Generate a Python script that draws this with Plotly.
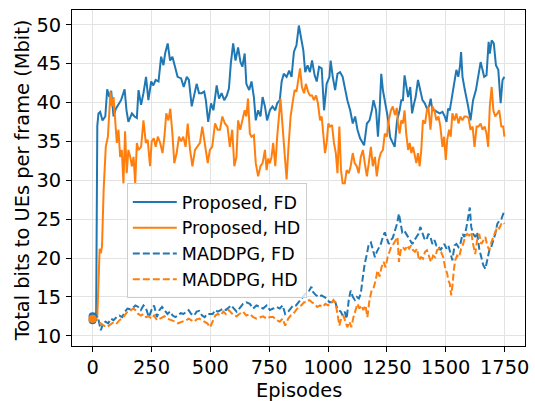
import plotly.graph_objects as go

# ---------------- data ----------------
prop_fd_x = [0, 8, 15, 20, 25, 32, 42, 54, 62, 71, 79, 89, 99, 110, 121, 136, 144, 152, 167, 178, 188, 195, 206, 216, 227, 237, 249, 258, 268, 280, 291, 301, 308, 319, 329, 339, 350, 361, 376, 387, 400, 409, 421, 432, 442, 452, 463, 474, 481, 491, 503, 513, 527, 537, 548, 559, 570, 579, 587, 597, 607, 618, 628, 636, 646, 653, 665, 675, 685, 693, 703, 713, 722, 732, 741, 753, 764, 776, 784, 795, 803, 812, 824, 835, 845, 855, 866, 876, 886, 895, 903, 913, 923, 932, 943, 952, 962, 973, 983, 994, 1006, 1011, 1020, 1030, 1040, 1051, 1062, 1072, 1082, 1094, 1105, 1115, 1125, 1136, 1146, 1153, 1165, 1176, 1186, 1193, 1204, 1212, 1219, 1226, 1233, 1243, 1253, 1264, 1273, 1283, 1293, 1304, 1311, 1318, 1325, 1332, 1340, 1349, 1357, 1364, 1372, 1382, 1392, 1401, 1411, 1420, 1429, 1436, 1443, 1453, 1463, 1474, 1486, 1496, 1503, 1510, 1517, 1528, 1538, 1545, 1553, 1560, 1565, 1571, 1581, 1588, 1595, 1605, 1616, 1628, 1638, 1648, 1656, 1663, 1673, 1682, 1687, 1695, 1704, 1713, 1723, 1733, 1741, 1749]
prop_fd_y = [12.0, 12.3, 12.0, 37.0, 38.6, 38.8, 37.7, 38.2, 41.7, 40.7, 41.5, 38.2, 39.2, 39.7, 40.3, 41.7, 39.0, 37.5, 38.6, 38.2, 38.0, 41.6, 39.7, 41.2, 43.3, 40.3, 42.7, 42.2, 42.9, 42.7, 45.9, 44.8, 46.3, 47.6, 45.4, 45.9, 44.4, 43.3, 43.1, 42.0, 43.3, 42.9, 39.5, 41.2, 42.4, 41.2, 41.2, 41.4, 40.3, 37.5, 39.9, 39.0, 42.2, 40.5, 41.2, 40.3, 40.9, 41.8, 45.0, 47.6, 45.4, 47.1, 45.2, 44.6, 46.3, 42.4, 41.6, 42.7, 40.7, 37.7, 39.0, 38.2, 40.7, 39.5, 37.7, 39.0, 39.5, 39.0, 39.9, 40.3, 42.7, 43.7, 43.3, 44.1, 43.3, 46.5, 47.4, 49.9, 48.0, 46.7, 43.9, 44.8, 43.9, 45.4, 43.5, 42.7, 44.6, 44.4, 39.0, 42.4, 43.3, 45.4, 43.3, 41.6, 43.7, 43.9, 43.3, 41.6, 40.3, 39.0, 37.3, 38.2, 36.5, 35.4, 34.8, 34.5, 37.3, 37.7, 39.0, 40.3, 39.0, 35.6, 39.0, 43.7, 41.6, 39.9, 38.2, 35.5, 35.0, 34.3, 37.7, 39.0, 40.3, 40.3, 43.5, 42.0, 40.7, 42.0, 38.6, 39.7, 40.7, 42.9, 41.6, 40.3, 39.9, 39.2, 39.5, 40.5, 39.0, 39.0, 38.8, 38.6, 38.8, 38.2, 37.5, 39.2, 39.0, 41.2, 42.9, 44.2, 43.3, 44.6, 46.5, 43.3, 41.6, 40.7, 39.5, 37.7, 40.3, 41.6, 43.5, 45.2, 44.2, 43.3, 43.5, 47.8, 46.3, 48.0, 47.6, 44.8, 44.2, 39.9, 42.9, 43.3]

prop_hd_x = [0, 10, 20, 26, 30, 35, 40, 47, 56, 65, 71, 76, 82, 89, 96, 103, 110, 117, 124, 131, 138, 145, 152, 160, 167, 174, 181, 188, 195, 206, 216, 226, 234, 244, 251, 260, 268, 277, 287, 297, 305, 313, 322, 330, 339, 347, 357, 367, 376, 385, 395, 404, 414, 424, 435, 446, 456, 466, 477, 489, 498, 508, 520, 531, 541, 551, 562, 573, 583, 593, 602, 611, 618, 627, 636, 646, 653, 660, 668, 675, 685, 693, 703, 713, 722, 732, 739, 746, 753, 760, 767, 776, 784, 793, 798, 807, 815, 824, 832, 841, 849, 858, 866, 874, 881, 889, 898, 906, 915, 923, 932, 940, 949, 957, 966, 973, 980, 987, 994, 1001, 1008, 1017, 1025, 1033, 1040, 1048, 1055, 1062, 1071, 1079, 1088, 1096, 1105, 1113, 1122, 1130, 1139, 1148, 1156, 1165, 1173, 1182, 1190, 1199, 1207, 1216, 1224, 1233, 1241, 1250, 1258, 1267, 1275, 1284, 1292, 1297, 1304, 1311, 1318, 1325, 1332, 1340, 1347, 1354, 1361, 1368, 1375, 1382, 1389, 1396, 1403, 1412, 1420, 1426, 1435, 1443, 1452, 1460, 1469, 1477, 1486, 1493, 1500, 1506, 1514, 1521, 1528, 1537, 1545, 1554, 1562, 1571, 1579, 1588, 1597, 1605, 1614, 1622, 1631, 1639, 1648, 1656, 1665, 1673, 1680, 1687, 1695, 1702, 1710, 1719, 1727, 1736, 1744, 1749]
prop_hd_y = [12.2, 12.5, 12.4, 18.0, 21.2, 20.6, 21.5, 28.8, 34.3, 35.6, 39.9, 41.4, 39.5, 40.7, 37.7, 34.8, 36.5, 33.0, 33.9, 29.6, 36.3, 30.9, 33.9, 33.0, 31.8, 33.0, 29.6, 34.8, 33.9, 34.3, 37.7, 34.8, 35.2, 31.8, 35.0, 35.4, 34.3, 35.6, 34.8, 33.5, 35.6, 38.6, 37.7, 39.2, 36.0, 32.2, 33.5, 35.6, 35.0, 35.6, 34.3, 37.3, 33.9, 31.8, 33.9, 34.3, 34.8, 36.9, 34.8, 32.2, 33.9, 34.3, 37.3, 36.5, 36.5, 38.2, 37.3, 36.9, 34.3, 36.5, 31.8, 33.0, 37.7, 36.5, 37.7, 39.0, 38.2, 40.5, 36.0, 35.6, 35.8, 32.2, 30.5, 31.8, 32.2, 33.9, 31.3, 32.8, 32.2, 33.0, 34.8, 31.8, 35.6, 39.0, 40.5, 36.9, 33.9, 30.1, 34.3, 38.2, 39.9, 41.6, 41.4, 42.9, 44.4, 42.0, 41.2, 42.4, 41.4, 40.9, 40.9, 40.3, 40.9, 39.9, 37.7, 38.2, 36.0, 33.5, 34.8, 37.3, 36.9, 37.1, 34.8, 33.5, 30.9, 36.9, 31.3, 29.6, 29.6, 31.3, 30.9, 31.8, 33.5, 32.2, 31.8, 30.9, 33.0, 33.9, 32.2, 30.5, 32.2, 34.3, 31.8, 33.0, 30.5, 32.6, 33.5, 33.9, 36.0, 35.6, 37.7, 39.0, 39.5, 38.4, 39.3, 37.3, 36.0, 37.7, 37.3, 39.0, 36.0, 33.9, 34.8, 33.5, 34.3, 33.0, 32.2, 33.5, 31.8, 33.9, 37.7, 37.3, 39.0, 39.5, 36.5, 39.5, 39.0, 37.7, 38.2, 36.9, 34.3, 35.6, 32.6, 35.2, 36.5, 35.6, 38.6, 37.7, 38.6, 37.3, 38.2, 37.7, 38.2, 38.2, 38.0, 36.5, 36.9, 34.3, 36.9, 36.9, 37.3, 36.5, 36.9, 36.0, 34.3, 39.5, 42.0, 39.0, 38.2, 38.6, 39.0, 36.9, 36.9, 35.6]

mad_fd_x = [0, 10, 24, 35, 45, 55, 66, 78, 89, 102, 114, 126, 137, 148, 160, 172, 182, 194, 205, 216, 227, 239, 250, 261, 273, 284, 295, 306, 318, 329, 340, 352, 363, 374, 386, 397, 408, 419, 431, 442, 453, 465, 476, 487, 499, 510, 521, 532, 544, 555, 566, 578, 589, 600, 612, 623, 639, 653, 668, 682, 696, 710, 724, 739, 753, 767, 781, 795, 807, 818, 831, 841, 852, 864, 875, 886, 898, 909, 920, 929, 937, 949, 960, 972, 983, 994, 1006, 1017, 1028, 1037, 1045, 1054, 1062, 1071, 1079, 1088, 1096, 1105, 1114, 1122, 1131, 1139, 1148, 1156, 1165, 1173, 1182, 1190, 1199, 1207, 1216, 1224, 1233, 1241, 1250, 1258, 1267, 1275, 1284, 1293, 1301, 1308, 1315, 1324, 1332, 1341, 1349, 1358, 1367, 1375, 1384, 1392, 1401, 1409, 1418, 1426, 1435, 1443, 1452, 1460, 1469, 1477, 1486, 1494, 1503, 1511, 1520, 1528, 1537, 1545, 1554, 1562, 1571, 1579, 1588, 1597, 1602, 1608, 1616, 1625, 1633, 1642, 1651, 1659, 1668, 1676, 1685, 1693, 1702, 1710, 1719, 1727, 1736, 1744, 1749]
mad_fd_y = [12.5, 12.8, 12.2, 10.7, 11.6, 11.8, 11.6, 12.2, 12.0, 12.4, 12.6, 12.4, 13.1, 13.5, 13.4, 13.6, 13.9, 13.7, 13.3, 13.9, 13.5, 12.4, 13.3, 13.9, 12.4, 13.3, 13.7, 13.3, 12.8, 13.1, 12.6, 12.4, 12.6, 12.9, 12.8, 13.1, 13.3, 12.8, 12.6, 13.1, 13.2, 12.6, 12.4, 12.8, 12.8, 12.8, 13.3, 13.1, 13.3, 13.5, 13.3, 13.6, 13.9, 13.5, 13.1, 13.5, 14.1, 14.3, 14.1, 13.5, 13.9, 13.7, 13.5, 13.9, 13.3, 13.5, 13.7, 13.5, 13.9, 12.8, 13.1, 13.5, 13.9, 13.9, 14.3, 14.8, 15.2, 15.6, 15.8, 16.3, 15.6, 15.2, 15.0, 15.2, 15.0, 14.8, 14.3, 14.3, 14.6, 13.7, 13.3, 13.1, 12.6, 13.1, 12.2, 14.6, 15.8, 15.0, 14.6, 15.0, 14.8, 15.4, 17.6, 19.3, 20.5, 21.8, 22.0, 21.0, 20.1, 20.8, 21.4, 21.8, 22.7, 23.3, 22.5, 21.8, 22.3, 22.6, 23.5, 24.4, 25.7, 24.4, 23.3, 23.5, 23.1, 22.7, 22.3, 21.8, 22.3, 22.7, 23.1, 24.0, 23.3, 22.5, 22.3, 23.1, 22.7, 21.8, 22.3, 21.6, 21.6, 21.0, 21.4, 21.8, 21.2, 21.6, 20.6, 19.7, 21.6, 21.8, 21.4, 21.8, 23.1, 22.7, 24.0, 25.7, 26.5, 24.0, 23.1, 22.7, 23.3, 21.2, 20.1, 19.1, 18.6, 19.7, 21.0, 21.4, 22.3, 23.1, 24.4, 24.8, 25.0, 25.7, 26.1]

mad_hd_x = [0, 10, 24, 35, 47, 58, 69, 80, 92, 103, 114, 126, 137, 148, 160, 172, 182, 194, 205, 216, 227, 239, 250, 261, 273, 284, 295, 306, 318, 329, 340, 352, 363, 374, 386, 397, 408, 419, 431, 442, 453, 465, 476, 487, 499, 510, 521, 532, 544, 555, 566, 578, 589, 600, 612, 623, 639, 653, 668, 682, 696, 710, 724, 739, 753, 767, 781, 795, 807, 818, 831, 841, 852, 864, 875, 886, 898, 909, 920, 932, 943, 954, 966, 977, 989, 1000, 1011, 1023, 1031, 1040, 1048, 1057, 1065, 1074, 1082, 1091, 1099, 1108, 1116, 1125, 1133, 1142, 1150, 1159, 1167, 1176, 1185, 1193, 1202, 1210, 1219, 1227, 1236, 1244, 1253, 1261, 1270, 1278, 1287, 1295, 1301, 1310, 1318, 1327, 1335, 1344, 1352, 1361, 1369, 1378, 1386, 1395, 1403, 1412, 1420, 1429, 1437, 1446, 1455, 1463, 1472, 1480, 1489, 1497, 1506, 1511, 1517, 1523, 1528, 1534, 1540, 1548, 1557, 1565, 1574, 1582, 1591, 1599, 1608, 1616, 1625, 1633, 1642, 1651, 1659, 1668, 1676, 1685, 1693, 1702, 1710, 1719, 1727, 1736, 1744, 1749]
mad_hd_y = [12.2, 12.4, 11.8, 11.6, 11.3, 11.1, 11.3, 11.6, 11.8, 11.6, 12.0, 12.2, 12.6, 13.1, 13.2, 13.5, 13.3, 12.8, 12.6, 12.8, 12.4, 12.5, 12.2, 12.6, 12.0, 12.2, 12.4, 12.5, 12.2, 12.1, 12.0, 11.8, 11.6, 11.7, 11.8, 12.0, 12.2, 12.0, 11.8, 12.1, 12.2, 12.0, 11.8, 11.6, 11.1, 11.8, 12.6, 12.8, 12.6, 13.1, 12.8, 13.3, 12.9, 12.6, 12.5, 12.8, 13.1, 12.6, 12.8, 12.4, 12.2, 12.4, 12.5, 12.2, 12.4, 12.4, 12.0, 11.8, 12.2, 11.3, 12.2, 12.6, 12.8, 13.3, 13.7, 13.9, 14.3, 14.3, 14.6, 14.3, 14.1, 13.7, 13.9, 13.7, 14.1, 13.9, 14.1, 14.6, 14.3, 12.8, 11.3, 12.4, 12.6, 11.8, 11.1, 11.8, 11.1, 12.4, 13.3, 14.1, 13.5, 13.9, 13.3, 13.9, 12.4, 14.6, 15.8, 16.1, 17.1, 18.4, 17.6, 18.8, 19.5, 18.8, 20.1, 20.8, 21.6, 21.8, 22.3, 22.7, 19.5, 21.2, 21.4, 21.0, 21.6, 21.2, 21.6, 21.0, 20.8, 21.2, 19.7, 20.1, 19.9, 20.8, 21.0, 20.1, 19.5, 20.3, 20.1, 21.0, 21.2, 20.8, 20.1, 18.8, 18.0, 17.1, 16.7, 15.2, 16.3, 18.4, 19.7, 20.3, 20.1, 21.2, 21.8, 22.7, 23.1, 22.9, 23.3, 21.8, 20.5, 22.3, 23.1, 21.8, 22.3, 22.7, 21.6, 21.0, 22.0, 22.7, 23.3, 24.0, 23.8, 24.4, 24.6, 24.4]

series_names = ["Proposed, FD", "Proposed, HD", "MADDPG, FD", "MADDPG, HD"]
x_ticks = [0, 250, 500, 750, 1000, 1250, 1500, 1750]
y_ticks = [10, 15, 20, 25, 30, 35, 40, 45, 50]
x_title = "Episodes"
y_title = "Total bits to UEs per frame (Mbit)"

BLUE = "#1f77b4"
ORANGE = "#ff7f0e"
FONT = "DejaVu Sans"

fig = go.Figure()
specs = [
    (prop_fd_x, prop_fd_y, series_names[0], BLUE, "solid"),
    (prop_hd_x, prop_hd_y, series_names[1], ORANGE, "solid"),
    (mad_fd_x, mad_fd_y, series_names[2], BLUE, "7px,3px"),
    (mad_hd_x, mad_hd_y, series_names[3], ORANGE, "7px,3px"),
]
for xs, ys, name, col, dash in specs:
    fig.add_trace(go.Scatter(x=xs, y=ys, mode="lines", name=name,
                             line=dict(color=col, width=2, dash=dash)))

# start markers at episode 0
for xs, ys, name, col, dash in specs:
    fig.add_trace(go.Scatter(x=[xs[0]], y=[ys[0]], mode="markers", showlegend=False,
                             marker=dict(color=col, size=8), hoverinfo="skip"))

axis_common = dict(
    showline=True, linecolor="black", linewidth=1, mirror=True,
    ticks="outside", ticklen=5, tickwidth=1, tickcolor="black",
    showgrid=True, gridcolor="#e3e3e3", gridwidth=1, zeroline=False,
    tickfont=dict(family=FONT, size=19.4, color="black"),
    automargin=False,
)

fig.update_layout(
    width=535, height=401,
    margin=dict(l=72, r=10, t=10, b=55),
    paper_bgcolor="white", plot_bgcolor="white",
    font=dict(family=FONT, size=19.4, color="black"),
    xaxis=dict(range=[-87.45, 1836.45], tickvals=x_ticks, ticklabelstandoff=-1, **axis_common),
    yaxis=dict(range=[8.68, 51.9], tickvals=y_ticks, ticklabelstandoff=1, **axis_common),
    legend=dict(x=0.121, y=0.485, xanchor="left", yanchor="top",
                bgcolor="rgba(255,255,255,0.8)", bordercolor="#cccccc", borderwidth=1,
                font=dict(family=FONT, size=17.5), tracegroupgap=0, itemwidth=44),
    showlegend=True,
    annotations=[
        dict(text=x_title, xref="paper", yref="paper", x=0.5, y=-0.131,
             xanchor="center", yanchor="middle", showarrow=False,
             font=dict(family=FONT, size=19.4, color="black")),
        dict(text=y_title, xref="paper", yref="paper", x=-0.110, y=0.494,
             xanchor="center", yanchor="middle", textangle=-90, showarrow=False,
             font=dict(family=FONT, size=19.4, color="black")),
    ],
)

fig.write_html("out.html")
